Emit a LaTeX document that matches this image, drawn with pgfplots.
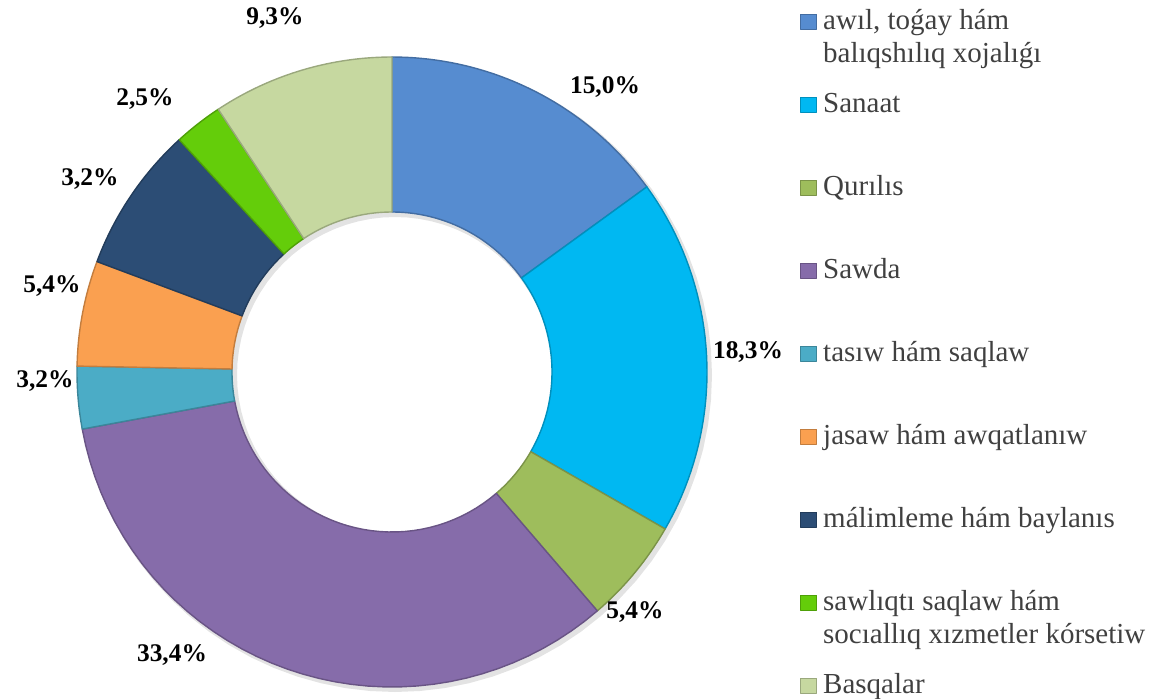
\documentclass[border=0pt]{standalone}
\usepackage{pgfplots}
\pgfplotsset{compat=1.18}
\usepackage{fontspec}
\setmainfont{Liberation Serif}
\definecolor{c1}{RGB}{86,140,208}
\definecolor{c2}{RGB}{0,184,242}
\definecolor{c3}{RGB}{158,189,92}
\definecolor{c4}{RGB}{134,108,170}
\definecolor{c5}{RGB}{75,172,198}
\definecolor{c6}{RGB}{250,160,80}
\definecolor{c7}{RGB}{44,77,117}
\definecolor{c8}{RGB}{100,205,10}
\definecolor{c9}{RGB}{198,216,160}
\definecolor{legtext}{RGB}{64,64,64}
% #1 cumulative start (percent), #2 value (percent), #3 colour
\newcommand{\seg}[3]{%
\addplot[fill=#3, draw=#3!78!black, line width=0.7pt, line join=round, variable=\t, samples at={0,1,...,81}]
 ({392 + (\t<40.5 ? 315 : 160)*cos(\t<40.5 ? 90-3.6*(#1+#2*\t/40) : 90-3.6*(#1+#2*(81-\t)/40))},
  {326 + (\t<40.5 ? 315 : 160)*sin(\t<40.5 ? 90-3.6*(#1+#2*\t/40) : 90-3.6*(#1+#2*(81-\t)/40))}) -- cycle;
}
\newcommand{\two}[2]{\vtop{\hbox{#1}\hbox{#2}}}
\begin{document}
\begin{tikzpicture}
\begin{axis}[
  x=0.5pt, y=0.5pt,
  xmin=0, xmax=1149, ymin=0, ymax=698,
  hide axis, clip=false,
  legend image code/.code={\draw[#1, line width=0.4pt] (0pt,0.2pt) rectangle (8pt,7.6pt);},
  legend style={at={(axis cs:800,689)}, anchor=north west, draw=none, fill=none,
    inner sep=0pt, row sep=31.5pt, column sep=3pt,
    font=\fontsize{14.5}{16.5}\selectfont\color{legtext},
    nodes={inner sep=0pt, text height=10pt, text depth=0pt, anchor=base west}},
  legend cell align=left,
]
\path (rel axis cs:0,0) rectangle (rel axis cs:1,1);
% soft drop shadow of the ring
\addplot[forget plot, fill=black, draw=none, opacity=0.11, variable=\t, samples at={0,1,...,161}]
 ({395 + (\t<80.5 ? 317 : 158)*cos(\t<80.5 ? 90-360*\t/80 : 90-360*(161-\t)/80)},
  {323 + (\t<80.5 ? 317 : 158)*sin(\t<80.5 ? 90-360*\t/80 : 90-360*(161-\t)/80)}) -- cycle;
\seg{0}{15.0}{c1}
\addlegendentry{\two{awıl, toǵay hám}{balıqshılıq xojalıǵı}}
\seg{15.0}{18.3}{c2}
\addlegendentry{Sanaat}
\seg{33.3}{5.4}{c3}
\addlegendentry{Qurılıs}
\seg{38.7}{33.4}{c4}
\addlegendentry{Sawda}
\seg{72.1}{3.2}{c5}
\addlegendentry{tasıw hám saqlaw}
\seg{75.3}{5.4}{c6}
\addlegendentry{jasaw hám awqatlanıw}
\seg{80.7}{7.5}{c7}
\addlegendentry{málimleme hám baylanıs}
\seg{88.2}{2.5}{c8}
\addlegendentry{\two{sawlıqtı saqlaw hám}{socıallıq xızmetler kórsetiw}}
\seg{90.7}{9.3}{c9}
\addlegendentry{Basqalar}
\begin{scope}[font=\bfseries\fontsize{12.7}{14}\selectfont]
\node at (axis cs:605,611) {15,0\%};
\node at (axis cs:748,346) {18,3\%};
\node at (axis cs:635,86) {5,4\%};
\node at (axis cs:172,43) {33,4\%};
\node at (axis cs:45,317) {3,2\%};
\node at (axis cs:52,412) {5,4\%};
\node at (axis cs:90,519) {3,2\%};
\node at (axis cs:145,599) {2,5\%};
\node at (axis cs:275,680) {9,3\%};
\end{scope}
\end{axis}
\end{tikzpicture}
\end{document}
